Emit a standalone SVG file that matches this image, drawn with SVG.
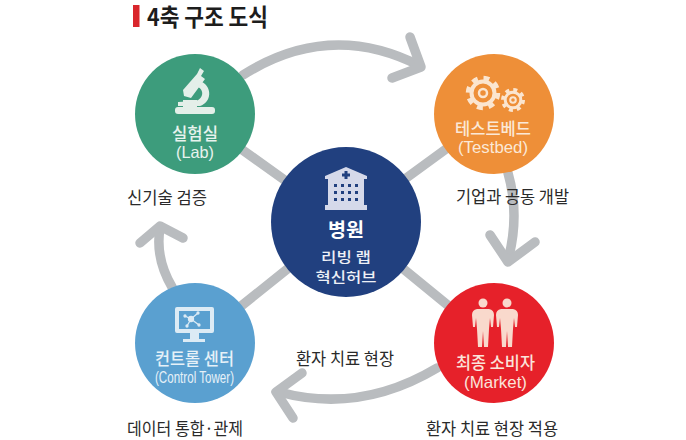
<svg xmlns="http://www.w3.org/2000/svg" width="686" height="440" viewBox="0 0 686 440">
<style>
text{font-family:"Noto Sans CJK KR","Noto Sans",sans-serif;text-anchor:middle;dominant-baseline:central}
.cap{fill:#2a2a2a;font-size:17px}
.lab{font-size:17px;font-weight:500}
.hub{font-size:13.800px;font-weight:500;fill:#eef0f6}
.en{font-size:16.500px;font-family:"Liberation Sans","Noto Sans CJK KR",sans-serif}
.conn{fill:none;stroke:#b9bcbf;stroke-width:9.500;stroke-linecap:round;stroke-linejoin:round}
.spoke{fill:none;stroke:#b9bcbf;stroke-width:9.500}
</style>
<rect width="686" height="440" fill="#fff"/>
<g id="title">
<rect x="133" y="5" width="6.500" height="22" fill="#d9262c"/>
<text x="207.500" y="16" style="font-size:23.500px;font-weight:700;fill:#1d1d1d" textLength="121" lengthAdjust="spacingAndGlyphs">4축 구조 도식</text>
</g>
<g id="connectors">
<path class="spoke" d="M195 116L346 224M494 114L346 222M195 343L346 222M494 343L346 222"/>
<path class="conn" d="M243 75Q330 20 420 66"/>
<path class="conn" d="M410 37L421 67L392 78"/>
<path class="conn" d="M508 173Q520 215 508 260"/>
<path class="conn" d="M490 235L508 262L535 242"/>
<path class="conn" d="M437 368Q360 414 279 392"/>
<path class="conn" d="M302 373L276 392L293 418"/>
<path class="conn" d="M172 287Q155 258 160 228"/>
<path class="conn" d="M140 243L160 226L183 238"/>
</g>
<g id="lab">
<circle cx="195" cy="114" r="60" fill="#3d9c7c"/>
<g fill="#e4efe9">
<path d="M200 68L204 71L201 76L205 79L191 98L184 96L183 90L197 74Z"/>
<path d="M202 82C212 87 212 102 200 106L178 106L178 102L196 101C204 98 204 90 198 87Z"/>
<rect x="175" y="107" width="40" height="7" rx="3"/>
<rect x="183" y="100" width="14" height="8"/>
</g>
<text class="lab" x="195" y="132" fill="#e8f3ee" textLength="46" lengthAdjust="spacingAndGlyphs">실험실</text>
<text class="en" x="195" y="152" fill="#e8f3ee" textLength="38" lengthAdjust="spacingAndGlyphs">(Lab)</text>
</g>
<text class="cap" x="167" y="196" textLength="80" lengthAdjust="spacingAndGlyphs">신기술 검증</text>
<g id="testbed">
<circle cx="494" cy="114" r="60" fill="#ee8f38"/>
<g fill="none" stroke="#fbe5cf">
<circle cx="483" cy="93" r="14.500" stroke-width="5.500" stroke-dasharray="5.700 5.700"/>
<circle cx="483" cy="93" r="11.500" stroke-width="4"/>
<circle cx="483" cy="93" r="4" stroke-width="2.500"/>
<circle cx="513" cy="100" r="10" stroke-width="4" stroke-dasharray="3.900 3.950"/>
<circle cx="513" cy="100" r="7.800" stroke-width="3"/>
<circle cx="513" cy="100" r="2.800" stroke-width="2"/>
</g>
<text class="lab" x="493" y="127" fill="#fbe8d6" textLength="76" lengthAdjust="spacingAndGlyphs">테스트베드</text>
<text class="en" x="493" y="147" fill="#fbe8d6" textLength="70" lengthAdjust="spacingAndGlyphs">(Testbed)</text>
</g>
<text class="cap" x="512.500" y="195" textLength="113" lengthAdjust="spacingAndGlyphs">기업과 공동 개발</text>
<g id="hospital">
<circle cx="346" cy="222" r="75" fill="#21407f"/>
<path fill="#d5d9ea" d="M346 167L367 176L367 179L364 179L364 205L367 205L367 210L325 210L325 205L328 205L328 179L325 179L325 176Z"/>
<path d="M344.500 171h3v2.500h2.500v3h-2.500v2.500h-3v-2.500h-2.500v-3h2.500Z" fill="#21407f"/>
<g fill="#21407f">
<rect x="334" y="184" width="3" height="3"/><rect x="341" y="184" width="3" height="3"/><rect x="348" y="184" width="3" height="3"/><rect x="355" y="184" width="3" height="3"/>
<rect x="334" y="191" width="3" height="3"/><rect x="341" y="191" width="3" height="3"/><rect x="348" y="191" width="3" height="3"/><rect x="355" y="191" width="3" height="3"/>
<rect x="334" y="198" width="3" height="3"/><rect x="341" y="198" width="3" height="3"/><rect x="348" y="198" width="3" height="3"/><rect x="355" y="198" width="3" height="3"/>
</g>
<text x="346" y="228" fill="#fff" style="font-size:19px;font-weight:700" textLength="36" lengthAdjust="spacingAndGlyphs">병원</text>
<text class="hub" x="346" y="255.500" textLength="50" lengthAdjust="spacingAndGlyphs">리빙 랩</text>
<text class="hub" x="346" y="275.500" textLength="61" lengthAdjust="spacingAndGlyphs">혁신허브</text>
</g>
<g id="control">
<circle cx="195" cy="343" r="60" fill="#5aa0d0"/>
<path fill="#dcebf5" fill-rule="evenodd" d="M177 307H212Q214 307 214 309V331Q214 333 212 333H177Q175 333 175 331V309Q175 307 177 307ZM179 311V329H210V311Z"/>
<path fill="#dcebf5" d="M190 333H199V339H205V342H183V339H190Z"/>
<g fill="#dcebf5" stroke="#dcebf5" stroke-width="1.300">
<path d="M185 316L191 319L198 313M191 319L187 326M191 319L199 325" fill="none"/>
<circle cx="191" cy="319" r="2.500"/><circle cx="185" cy="316" r="1"/><circle cx="198" cy="313" r="1"/><circle cx="187" cy="326" r="1"/><circle cx="199" cy="325" r="1"/>
</g>
<text class="lab" x="194.500" y="357" fill="#e6f1f8" textLength="79" lengthAdjust="spacingAndGlyphs">컨트롤 센터</text>
<text class="en" x="194.500" y="377" fill="#e6f1f8" textLength="79" lengthAdjust="spacingAndGlyphs">(Control Tower)</text>
</g>
<text class="cap" x="185" y="427" textLength="116" lengthAdjust="spacingAndGlyphs">데이터 통합·관제</text>
<g id="market">
<circle cx="494" cy="343" r="60" fill="#e6212a"/>
<g fill="#f9d9cc">
<circle cx="483" cy="303" r="4.500"/><circle cx="507" cy="303" r="4.500"/>
<path d="M477 309H489Q494 310 494 315L493 327L491 327L490 318L489 329L488 347H484L483 331L482 347H478L477 329L476 318L475 327L473 327L472 315Q472 310 477 309Z"/>
<path d="M501 309H513Q518 310 518 315L517 327L515 327L514 318L513 329L512 347H508L507 331L506 347H502L501 329L500 318L499 327L497 327L496 315Q496 310 501 309Z"/>
</g>
<text class="lab" x="495.500" y="361" fill="#fbe3da" textLength="79" lengthAdjust="spacingAndGlyphs">최종 소비자</text>
<text class="en" x="495.500" y="382" fill="#fbe3da" textLength="63" lengthAdjust="spacingAndGlyphs">(Market)</text>
</g>
<text class="cap" x="345" y="357" textLength="98" lengthAdjust="spacingAndGlyphs">환자 치료 현장</text>
<text class="cap" x="492" y="427" textLength="132" lengthAdjust="spacingAndGlyphs">환자 치료 현장 적용</text>
</svg>
